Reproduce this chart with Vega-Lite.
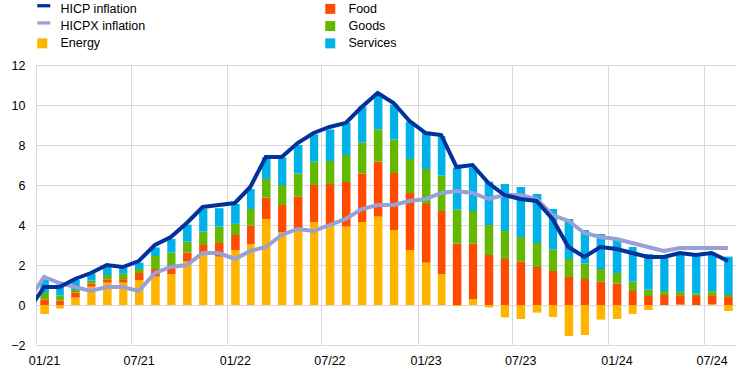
{
  "$schema": "https://vega.github.io/schema/vega-lite/v6.json",
  "width": 700,
  "height": 280,
  "autosize": {"type": "none"},
  "padding": {"left": 36, "top": 65, "right": 8, "bottom": 28},
  "background": "white",
  "config": {
    "font": "Liberation Sans",
    "view": {"stroke": null},
    "axis": {"labelFont": "Liberation Sans", "labelFontSize": 12.5, "labelColor": "#000000", "title": null, "ticks": false, "domain": false, "grid": true, "gridColor": "#d9d9d9", "gridWidth": 1, "labelOverlap": false}
  },
  "datasets": {
    "bars": [
      {"month": "2021-01", "series": "Energy", "value": -0.45}, {"month": "2021-01", "series": "Food", "value": 0.28}, {"month": "2021-01", "series": "Goods", "value": 0.32}, {"month": "2021-01", "series": "Services", "value": 0.65},
      {"month": "2021-02", "series": "Energy", "value": -0.17}, {"month": "2021-02", "series": "Food", "value": 0.22}, {"month": "2021-02", "series": "Goods", "value": 0.25}, {"month": "2021-02", "series": "Services", "value": 0.55},
      {"month": "2021-03", "series": "Energy", "value": 0.37}, {"month": "2021-03", "series": "Food", "value": 0.25}, {"month": "2021-03", "series": "Goods", "value": 0.13}, {"month": "2021-03", "series": "Services", "value": 0.5},
      {"month": "2021-04", "series": "Energy", "value": 0.92}, {"month": "2021-04", "series": "Food", "value": 0.16}, {"month": "2021-04", "series": "Goods", "value": 0.14}, {"month": "2021-04", "series": "Services", "value": 0.36},
      {"month": "2021-05", "series": "Energy", "value": 1.12}, {"month": "2021-05", "series": "Food", "value": 0.16}, {"month": "2021-05", "series": "Goods", "value": 0.22}, {"month": "2021-05", "series": "Services", "value": 0.45},
      {"month": "2021-06", "series": "Energy", "value": 1.12}, {"month": "2021-06", "series": "Food", "value": 0.17}, {"month": "2021-06", "series": "Goods", "value": 0.27}, {"month": "2021-06", "series": "Services", "value": 0.3},
      {"month": "2021-07", "series": "Energy", "value": 1.25}, {"month": "2021-07", "series": "Food", "value": 0.35}, {"month": "2021-07", "series": "Goods", "value": 0.2}, {"month": "2021-07", "series": "Services", "value": 0.32},
      {"month": "2021-08", "series": "Energy", "value": 1.42}, {"month": "2021-08", "series": "Food", "value": 0.38}, {"month": "2021-08", "series": "Goods", "value": 0.65}, {"month": "2021-08", "series": "Services", "value": 0.43},
      {"month": "2021-09", "series": "Energy", "value": 1.55}, {"month": "2021-09", "series": "Food", "value": 0.45}, {"month": "2021-09", "series": "Goods", "value": 0.62}, {"month": "2021-09", "series": "Services", "value": 0.68},
      {"month": "2021-10", "series": "Energy", "value": 2.17}, {"month": "2021-10", "series": "Food", "value": 0.45}, {"month": "2021-10", "series": "Goods", "value": 0.55}, {"month": "2021-10", "series": "Services", "value": 0.85},
      {"month": "2021-11", "series": "Energy", "value": 2.48}, {"month": "2021-11", "series": "Food", "value": 0.52}, {"month": "2021-11", "series": "Goods", "value": 0.67}, {"month": "2021-11", "series": "Services", "value": 1.13},
      {"month": "2021-12", "series": "Energy", "value": 2.42}, {"month": "2021-12", "series": "Food", "value": 0.68}, {"month": "2021-12", "series": "Goods", "value": 0.82}, {"month": "2021-12", "series": "Services", "value": 0.92},
      {"month": "2022-01", "series": "Energy", "value": 2.75}, {"month": "2022-01", "series": "Food", "value": 0.75}, {"month": "2022-01", "series": "Goods", "value": 0.56}, {"month": "2022-01", "series": "Services", "value": 0.99},
      {"month": "2022-02", "series": "Energy", "value": 3.05}, {"month": "2022-02", "series": "Food", "value": 0.92}, {"month": "2022-02", "series": "Goods", "value": 0.83}, {"month": "2022-02", "series": "Services", "value": 1.0},
      {"month": "2022-03", "series": "Energy", "value": 4.3}, {"month": "2022-03", "series": "Food", "value": 1.07}, {"month": "2022-03", "series": "Goods", "value": 0.93}, {"month": "2022-03", "series": "Services", "value": 1.08},
      {"month": "2022-04", "series": "Energy", "value": 3.65}, {"month": "2022-04", "series": "Food", "value": 1.35}, {"month": "2022-04", "series": "Goods", "value": 1.0}, {"month": "2022-04", "series": "Services", "value": 1.38},
      {"month": "2022-05", "series": "Energy", "value": 3.82}, {"month": "2022-05", "series": "Food", "value": 1.6}, {"month": "2022-05", "series": "Goods", "value": 1.15}, {"month": "2022-05", "series": "Services", "value": 1.43},
      {"month": "2022-06", "series": "Energy", "value": 4.15}, {"month": "2022-06", "series": "Food", "value": 1.85}, {"month": "2022-06", "series": "Goods", "value": 1.17}, {"month": "2022-06", "series": "Services", "value": 1.36},
      {"month": "2022-07", "series": "Energy", "value": 3.97}, {"month": "2022-07", "series": "Food", "value": 2.08}, {"month": "2022-07", "series": "Goods", "value": 1.15}, {"month": "2022-07", "series": "Services", "value": 1.58},
      {"month": "2022-08", "series": "Energy", "value": 3.92}, {"month": "2022-08", "series": "Food", "value": 2.23}, {"month": "2022-08", "series": "Goods", "value": 1.35}, {"month": "2022-08", "series": "Services", "value": 1.62},
      {"month": "2022-09", "series": "Energy", "value": 4.15}, {"month": "2022-09", "series": "Food", "value": 2.43}, {"month": "2022-09", "series": "Goods", "value": 1.54}, {"month": "2022-09", "series": "Services", "value": 1.8},
      {"month": "2022-10", "series": "Energy", "value": 4.42}, {"month": "2022-10", "series": "Food", "value": 2.75}, {"month": "2022-10", "series": "Goods", "value": 1.61}, {"month": "2022-10", "series": "Services", "value": 1.8},
      {"month": "2022-11", "series": "Energy", "value": 3.75}, {"month": "2022-11", "series": "Food", "value": 2.85}, {"month": "2022-11", "series": "Goods", "value": 1.67}, {"month": "2022-11", "series": "Services", "value": 1.75},
      {"month": "2022-12", "series": "Energy", "value": 2.75}, {"month": "2022-12", "series": "Food", "value": 2.85}, {"month": "2022-12", "series": "Goods", "value": 1.7}, {"month": "2022-12", "series": "Services", "value": 1.87},
      {"month": "2023-01", "series": "Energy", "value": 2.12}, {"month": "2023-01", "series": "Food", "value": 2.93}, {"month": "2023-01", "series": "Goods", "value": 1.75}, {"month": "2023-01", "series": "Services", "value": 1.83},
      {"month": "2023-02", "series": "Energy", "value": 1.55}, {"month": "2023-02", "series": "Food", "value": 3.15}, {"month": "2023-02", "series": "Goods", "value": 1.77}, {"month": "2023-02", "series": "Services", "value": 1.98},
      {"month": "2023-03", "series": "Energy", "value": -0.05}, {"month": "2023-03", "series": "Food", "value": 3.07}, {"month": "2023-03", "series": "Goods", "value": 1.7}, {"month": "2023-03", "series": "Services", "value": 2.11},
      {"month": "2023-04", "series": "Energy", "value": 0.3}, {"month": "2023-04", "series": "Food", "value": 2.77}, {"month": "2023-04", "series": "Goods", "value": 1.63}, {"month": "2023-04", "series": "Services", "value": 2.18},
      {"month": "2023-05", "series": "Energy", "value": -0.12}, {"month": "2023-05", "series": "Food", "value": 2.5}, {"month": "2023-05", "series": "Goods", "value": 1.5}, {"month": "2023-05", "series": "Services", "value": 2.17},
      {"month": "2023-06", "series": "Energy", "value": -0.62}, {"month": "2023-06", "series": "Food", "value": 2.3}, {"month": "2023-06", "series": "Goods", "value": 1.4}, {"month": "2023-06", "series": "Services", "value": 2.35},
      {"month": "2023-07", "series": "Energy", "value": -0.7}, {"month": "2023-07", "series": "Food", "value": 2.17}, {"month": "2023-07", "series": "Goods", "value": 1.23}, {"month": "2023-07", "series": "Services", "value": 2.5},
      {"month": "2023-08", "series": "Energy", "value": -0.38}, {"month": "2023-08", "series": "Food", "value": 1.9}, {"month": "2023-08", "series": "Goods", "value": 1.2}, {"month": "2023-08", "series": "Services", "value": 2.45},
      {"month": "2023-09", "series": "Energy", "value": -0.6}, {"month": "2023-09", "series": "Food", "value": 1.7}, {"month": "2023-09", "series": "Goods", "value": 1.07}, {"month": "2023-09", "series": "Services", "value": 2.03},
      {"month": "2023-10", "series": "Energy", "value": -1.55}, {"month": "2023-10", "series": "Food", "value": 1.4}, {"month": "2023-10", "series": "Goods", "value": 0.9}, {"month": "2023-10", "series": "Services", "value": 2.0},
      {"month": "2023-11", "series": "Energy", "value": -1.5}, {"month": "2023-11", "series": "Food", "value": 1.3}, {"month": "2023-11", "series": "Goods", "value": 0.77}, {"month": "2023-11", "series": "Services", "value": 1.68},
      {"month": "2023-12", "series": "Energy", "value": -0.73}, {"month": "2023-12", "series": "Food", "value": 1.17}, {"month": "2023-12", "series": "Goods", "value": 0.63}, {"month": "2023-12", "series": "Services", "value": 1.75},
      {"month": "2024-01", "series": "Energy", "value": -0.7}, {"month": "2024-01", "series": "Food", "value": 1.07}, {"month": "2024-01", "series": "Goods", "value": 0.53}, {"month": "2024-01", "series": "Services", "value": 1.75},
      {"month": "2024-02", "series": "Energy", "value": -0.45}, {"month": "2024-02", "series": "Food", "value": 0.7}, {"month": "2024-02", "series": "Goods", "value": 0.47}, {"month": "2024-02", "series": "Services", "value": 1.73},
      {"month": "2024-03", "series": "Energy", "value": -0.25}, {"month": "2024-03", "series": "Food", "value": 0.45}, {"month": "2024-03", "series": "Goods", "value": 0.32}, {"month": "2024-03", "series": "Services", "value": 1.78},
      {"month": "2024-04", "series": "Energy", "value": 0.0}, {"month": "2024-04", "series": "Food", "value": 0.5}, {"month": "2024-04", "series": "Goods", "value": 0.2}, {"month": "2024-04", "series": "Services", "value": 1.65},
      {"month": "2024-05", "series": "Energy", "value": 0.02}, {"month": "2024-05", "series": "Food", "value": 0.47}, {"month": "2024-05", "series": "Goods", "value": 0.17}, {"month": "2024-05", "series": "Services", "value": 1.9},
      {"month": "2024-06", "series": "Energy", "value": 0.0}, {"month": "2024-06", "series": "Food", "value": 0.45}, {"month": "2024-06", "series": "Goods", "value": 0.13}, {"month": "2024-06", "series": "Services", "value": 1.9},
      {"month": "2024-07", "series": "Energy", "value": 0.04}, {"month": "2024-07", "series": "Food", "value": 0.45}, {"month": "2024-07", "series": "Goods", "value": 0.2}, {"month": "2024-07", "series": "Services", "value": 1.88},
      {"month": "2024-08", "series": "Energy", "value": -0.3}, {"month": "2024-08", "series": "Food", "value": 0.4}, {"month": "2024-08", "series": "Goods", "value": 0.1}, {"month": "2024-08", "series": "Services", "value": 1.92}
    ],
    "lines": [
      {"month": "2020-12", "series": "HICP inflation", "value": -0.3},
      {"month": "2021-01", "series": "HICP inflation", "value": 0.9}, {"month": "2021-02", "series": "HICP inflation", "value": 0.9}, {"month": "2021-03", "series": "HICP inflation", "value": 1.3}, {"month": "2021-04", "series": "HICP inflation", "value": 1.6}, {"month": "2021-05", "series": "HICP inflation", "value": 2.0}, {"month": "2021-06", "series": "HICP inflation", "value": 1.9}, {"month": "2021-07", "series": "HICP inflation", "value": 2.2}, {"month": "2021-08", "series": "HICP inflation", "value": 3.0}, {"month": "2021-09", "series": "HICP inflation", "value": 3.4}, {"month": "2021-10", "series": "HICP inflation", "value": 4.1}, {"month": "2021-11", "series": "HICP inflation", "value": 4.9}, {"month": "2021-12", "series": "HICP inflation", "value": 5.0},
      {"month": "2022-01", "series": "HICP inflation", "value": 5.1}, {"month": "2022-02", "series": "HICP inflation", "value": 5.9}, {"month": "2022-03", "series": "HICP inflation", "value": 7.4}, {"month": "2022-04", "series": "HICP inflation", "value": 7.4}, {"month": "2022-05", "series": "HICP inflation", "value": 8.1}, {"month": "2022-06", "series": "HICP inflation", "value": 8.6}, {"month": "2022-07", "series": "HICP inflation", "value": 8.9}, {"month": "2022-08", "series": "HICP inflation", "value": 9.1}, {"month": "2022-09", "series": "HICP inflation", "value": 9.9}, {"month": "2022-10", "series": "HICP inflation", "value": 10.6}, {"month": "2022-11", "series": "HICP inflation", "value": 10.1}, {"month": "2022-12", "series": "HICP inflation", "value": 9.2},
      {"month": "2023-01", "series": "HICP inflation", "value": 8.6}, {"month": "2023-02", "series": "HICP inflation", "value": 8.5}, {"month": "2023-03", "series": "HICP inflation", "value": 6.9}, {"month": "2023-04", "series": "HICP inflation", "value": 7.0}, {"month": "2023-05", "series": "HICP inflation", "value": 6.1}, {"month": "2023-06", "series": "HICP inflation", "value": 5.5}, {"month": "2023-07", "series": "HICP inflation", "value": 5.3}, {"month": "2023-08", "series": "HICP inflation", "value": 5.2}, {"month": "2023-09", "series": "HICP inflation", "value": 4.3}, {"month": "2023-10", "series": "HICP inflation", "value": 2.9}, {"month": "2023-11", "series": "HICP inflation", "value": 2.4}, {"month": "2023-12", "series": "HICP inflation", "value": 2.9},
      {"month": "2024-01", "series": "HICP inflation", "value": 2.8}, {"month": "2024-02", "series": "HICP inflation", "value": 2.6}, {"month": "2024-03", "series": "HICP inflation", "value": 2.4}, {"month": "2024-04", "series": "HICP inflation", "value": 2.4}, {"month": "2024-05", "series": "HICP inflation", "value": 2.6}, {"month": "2024-06", "series": "HICP inflation", "value": 2.5}, {"month": "2024-07", "series": "HICP inflation", "value": 2.6}, {"month": "2024-08", "series": "HICP inflation", "value": 2.2},
      {"month": "2020-12", "series": "HICPX inflation", "value": 0.2},
      {"month": "2021-01", "series": "HICPX inflation", "value": 1.4}, {"month": "2021-02", "series": "HICPX inflation", "value": 1.1}, {"month": "2021-03", "series": "HICPX inflation", "value": 0.9}, {"month": "2021-04", "series": "HICPX inflation", "value": 0.7}, {"month": "2021-05", "series": "HICPX inflation", "value": 0.9}, {"month": "2021-06", "series": "HICPX inflation", "value": 0.9}, {"month": "2021-07", "series": "HICPX inflation", "value": 0.7}, {"month": "2021-08", "series": "HICPX inflation", "value": 1.6}, {"month": "2021-09", "series": "HICPX inflation", "value": 1.9}, {"month": "2021-10", "series": "HICPX inflation", "value": 2.0}, {"month": "2021-11", "series": "HICPX inflation", "value": 2.6}, {"month": "2021-12", "series": "HICPX inflation", "value": 2.6},
      {"month": "2022-01", "series": "HICPX inflation", "value": 2.3}, {"month": "2022-02", "series": "HICPX inflation", "value": 2.7}, {"month": "2022-03", "series": "HICPX inflation", "value": 2.9}, {"month": "2022-04", "series": "HICPX inflation", "value": 3.5}, {"month": "2022-05", "series": "HICPX inflation", "value": 3.8}, {"month": "2022-06", "series": "HICPX inflation", "value": 3.7}, {"month": "2022-07", "series": "HICPX inflation", "value": 4.0}, {"month": "2022-08", "series": "HICPX inflation", "value": 4.3}, {"month": "2022-09", "series": "HICPX inflation", "value": 4.8}, {"month": "2022-10", "series": "HICPX inflation", "value": 5.0}, {"month": "2022-11", "series": "HICPX inflation", "value": 5.0}, {"month": "2022-12", "series": "HICPX inflation", "value": 5.2},
      {"month": "2023-01", "series": "HICPX inflation", "value": 5.3}, {"month": "2023-02", "series": "HICPX inflation", "value": 5.6}, {"month": "2023-03", "series": "HICPX inflation", "value": 5.7}, {"month": "2023-04", "series": "HICPX inflation", "value": 5.6}, {"month": "2023-05", "series": "HICPX inflation", "value": 5.3}, {"month": "2023-06", "series": "HICPX inflation", "value": 5.5}, {"month": "2023-07", "series": "HICPX inflation", "value": 5.5}, {"month": "2023-08", "series": "HICPX inflation", "value": 5.3}, {"month": "2023-09", "series": "HICPX inflation", "value": 4.5}, {"month": "2023-10", "series": "HICPX inflation", "value": 4.2}, {"month": "2023-11", "series": "HICPX inflation", "value": 3.6}, {"month": "2023-12", "series": "HICPX inflation", "value": 3.4},
      {"month": "2024-01", "series": "HICPX inflation", "value": 3.3}, {"month": "2024-02", "series": "HICPX inflation", "value": 3.1}, {"month": "2024-03", "series": "HICPX inflation", "value": 2.9}, {"month": "2024-04", "series": "HICPX inflation", "value": 2.7}, {"month": "2024-05", "series": "HICPX inflation", "value": 2.85}, {"month": "2024-06", "series": "HICPX inflation", "value": 2.85}, {"month": "2024-07", "series": "HICPX inflation", "value": 2.85}, {"month": "2024-08", "series": "HICPX inflation", "value": 2.85}
    ]
  },
  "layer": [
    {
      "data": {"name": "bars"},
      "mark": {"type": "bar", "width": {"band": 0.59}},
      "encoding": {
        "x": {
          "field": "month", "type": "temporal", "timeUnit": "utcyearmonth",
          "scale": {"domain": [{"year": 2021, "month": 1, "date": 1, "utc": true}, {"year": 2024, "month": 9, "date": 1, "utc": true}], "nice": false},
          "axis": {
            "values": [
              {"year": 2021, "month": 1, "date": 1, "utc": true}, {"year": 2021, "month": 7, "date": 1, "utc": true},
              {"year": 2022, "month": 1, "date": 1, "utc": true}, {"year": 2022, "month": 7, "date": 1, "utc": true},
              {"year": 2023, "month": 1, "date": 1, "utc": true}, {"year": 2023, "month": 7, "date": 1, "utc": true},
              {"year": 2024, "month": 1, "date": 1, "utc": true}, {"year": 2024, "month": 7, "date": 1, "utc": true}
            ],
            "labelExpr": "utcFormat(datum.value, '%m/%y')",
            "labelOffset": 8, "labelPadding": 9, "labelFlush": false, "labelOverlap": false
          }
        },
        "y": {
          "field": "value", "type": "quantitative", "stack": "zero",
          "scale": {"domain": [-2, 12], "nice": false, "zero": false},
          "axis": {"values": [-2, 0, 2, 4, 6, 8, 10, 12], "tickCount": 8, "labelPadding": 11, "labelOverlap": false}
        },
        "color": {
          "field": "series", "type": "nominal",
          "scale": {
            "domain": ["HICP inflation", "HICPX inflation", "Energy", "Food", "Goods", "Services"],
            "range": ["#003299", "#98a0d5", "#ffb400", "#ff4b00", "#65b800", "#00b1ea"]
          },
          "legend": {
            "orient": "none", "legendX": 0, "legendY": -62.5, "title": null, "columns": 2, "direction": "vertical",
            "columnPadding": 178, "rowPadding": 4.3, "padding": 0, "symbolSize": 100,
            "labelFontSize": 12.5, "labelFont": "Liberation Sans", "labelColor": "#000000", "labelOffset": 12, "labelLimit": 300,
            "symbolType": "square",
            "encode": {
              "symbols": {
                "update": {
                  "shape": {"signal": "(datum.value === 'HICP inflation' || datum.value === 'HICPX inflation') ? 'M-1,-0.95H1.6V-0.3H-1Z' : 'square'"},
                  "fill": {"scale": "color", "field": "value"},
                  "stroke": {"value": "transparent"},
                  "strokeWidth": {"value": 0},
                  "opacity": {"value": 1}
                }
              }
            }
          }
        },
        "order": {"field": "series", "sort": "ascending"}
      }
    },
    {
      "mark": {"type": "rule", "color": "#595959", "strokeWidth": 2},
      "encoding": {"y": {"datum": 0, "axis": {"values": [-2, 0, 2, 4, 6, 8, 10, 12], "tickCount": 8, "labelPadding": 11, "labelOverlap": false}}}
    },
    {
      "data": {"name": "lines"},
      "transform": [{"filter": "datum.series === 'HICPX inflation'"}],
      "mark": {"type": "line", "strokeWidth": 4, "clip": true},
      "encoding": {
        "x": {"field": "month", "type": "temporal", "timeUnit": "utcyearmonth", "bandPosition": 0.5},
        "y": {"field": "value", "type": "quantitative", "axis": {"values": [-2, 0, 2, 4, 6, 8, 10, 12], "tickCount": 8, "labelPadding": 11, "labelOverlap": false}},
        "color": {"field": "series", "type": "nominal"}
      }
    },
    {
      "data": {"name": "lines"},
      "transform": [{"filter": "datum.series === 'HICP inflation'"}],
      "mark": {"type": "line", "strokeWidth": 4, "clip": true},
      "encoding": {
        "x": {"field": "month", "type": "temporal", "timeUnit": "utcyearmonth", "bandPosition": 0.5},
        "y": {"field": "value", "type": "quantitative", "axis": {"values": [-2, 0, 2, 4, 6, 8, 10, 12], "tickCount": 8, "labelPadding": 11, "labelOverlap": false}},
        "color": {"field": "series", "type": "nominal"}
      }
    }
  ]
}
